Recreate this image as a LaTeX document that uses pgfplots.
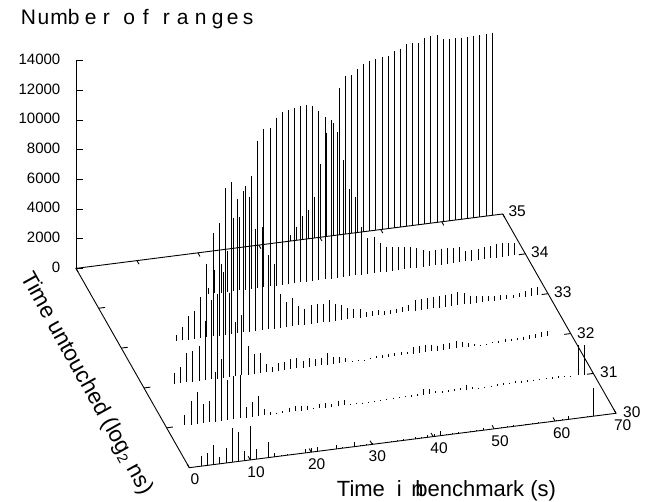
\documentclass[border=0pt]{standalone}
\usepackage{pgfplots}
\pgfplotsset{compat=1.18}
\usepackage{pgfplotstable}
\usepackage{fontspec}
\setmainfont{Liberation Sans}
\usetikzlibrary{calc}
\pgfplotstableread{
t n
2 700
3 810
4 1330
5 470
6 990
7 2300
8 2000
9 675
10 2270
11 675
13 1060
14 225
15 60
16 60
17 60
18 60
19 250
20 300
21 270
22 60
23 60
24 270
25 60
26 60
27 290
28 60
29 60
30 60
31 60
32 60
33 60
34 90
35 60
36 60
37 90
38 60
39 150
40 180
41 300
42 60
43 60
44 60
45 60
46 60
47 60
48 180
49 60
50 60
51 60
52 60
53 60
54 60
55 60
56 60
57 60
58 60
59 60
60 60
61 60
62 220
63 60
64 60
65 60
66 1935
}\rowA
\pgfplotstableread{
t n
3 720
4 1600
5 2180
6 1270
7 1420
8 3370
9 4170
10 2700
11 2900
12 2950
13 700
14 990
15 1330
16 400
17 180
18 70
19 135
20 270
21 380
22 340
23 290
24 90
25 290
26 340
27 160
28 360
29 340
30 45
31 20
32 8
33 8
34 8
35 50
36 60
37 70
38 90
39 90
40 90
41 135
42 380
43 360
44 135
45 110
46 135
47 135
48 135
49 315
50 135
51 10
52 10
53 10
54 90
55 135
56 110
57 135
58 135
59 110
60 90
61 70
62 70
63 110
64 110
65 90
66 20
67.3 2025
68.3 1960
}\rowB
\pgfplotstableread{
t n
5 720
6 1080
7 1980
8 2070
9 2340
10 4020
11 5380
12 5690
13 7150
14 5690
15 3640
16 4050
17 1960
18 1330
19 1350
20 560
21 340
22 500
23 520
24 690
25 690
26 470
27 610
28 470
29 520
30 790
31 470
32 405
33 290
34 10
35 50
36 10
37 70
38 135
39 160
40 180
41 200
42 200
43 180
44 460
45 460
46 470
47 450
48 315
49 380
50 380
51 470
52 380
53 250
54 135
55 20
56 45
57 110
58 135
59 200
60 135
61 180
62 200
63 225
64 250
65 380
66 340
}\rowC
\pgfplotstableread{
t n
9 405
10 900
11 1580
12 1890
13 2745
14 4920
15 6960
16 7600
17 9890
18 10250
19 9070
20 9540
21 9060
22 6900
23 6970
24 5000
25 4360
26 2295
27 1690
28 1935
29 1305
30 1080
31 1280
32 1280
33 1215
34 1440
35 1150
36 990
37 740
38 610
39 585
40 315
41 360
42 360
43 225
44 270
45 290
46 360
47 430
48 720
49 740
50 765
51 765
52 765
53 810
54 830
55 900
56 740
57 540
58 470
59 405
60 340
61 290
62 290
63 270
64 225
65 270
66 380
67 500
68 540
}\rowD
\pgfplotstableread{
t n
18 405
19 1600
20 1910
21 2770
22 4930
23 4950
24 7000
25 7630
26 9920
27 10690
28 10670
29 11340
30 11650
31 11750
32 11810
33 11880
34 11930
35 11810
36 11430
37 10935
38 10690
39 9855
40 7875
41 5895
42 5310
43 3195
44 2410
45 2430
46 2000
47 1690
48 1620
49 1530
50 1510
51 1460
52 1305
53 1150
54 1035
55 1060
56 1080
57 1060
58 1010
59 1010
60 675
61 700
62 720
63 810
64 810
65 920
66 920
67 855
68 810
}\rowE
\pgfplotstableread{
t n
35 405
36 920
37 1600
38 1935
39 2790
40 4930
41 7000
42 7630
43 9920
44 10665
45 10690
46 11025
47 11340
48 11475
49 11520
50 11630
51 11680
52 11900
53 12040
54 12285
55 12310
56 12285
57 12580
58 12620
59 12670
60 12330
61 12285
62 12260
63 12260
64 12240
65 12260
66 12260
67 12285
68 12330
}\rowF
\def\L#1#2{\rlap{\kern#1pt #2}}
\pgfplotsset{impulse/.style={draw=none, mark=none,
  error bars/z dir=minus, error bars/z fixed relative=1,
  error bars/error mark=none,
  error bars/error bar style={black, line width=1pt}}}
\begin{document}
\begin{tikzpicture}
\begin{axis}[
  hide axis, clip=false, disabledatascaling,
  x={(6.096pt,0.777pt)}, y={(-22.66pt,39.86pt)}, z={(0pt,0.014814pt)},
  xmin=0, xmax=70, ymin=30, ymax=35, zmin=0, zmax=14000,
]
\addplot3[impulse] table[x expr=\thisrow{t}*1.004, y expr=30, z=n] {\rowA};
\addplot3[impulse] table[x expr=\thisrow{t}*1.004, y expr=31, z=n] {\rowB};
\addplot3[impulse] table[x expr=\thisrow{t}*1.004, y expr=32, z=n] {\rowC};
\addplot3[impulse] table[x expr=\thisrow{t}*1.004, y expr=33, z=n] {\rowD};
\addplot3[impulse] table[x expr=\thisrow{t}*1.004, y expr=34, z=n] {\rowE};
\addplot3[impulse] table[x expr=\thisrow{t}*1.004, y expr=35, z=n] {\rowF};
\addplot3[black, line width=0.9pt, mark=none] coordinates {(0,30,0)(70,30,0)(70,35,0)(0,35,0)(0,30,0)};
\addplot3[black, line width=0.9pt, mark=none] coordinates {(0,35,0)(0,35,14000)};
\pgfplotsinvokeforeach{0,10,20,30,40,50,60,70}{
  \draw[line width=0.9pt] (axis cs:#1,30,0)--(axis cs:#1,30.09,0);
  \draw[line width=0.9pt] (axis cs:#1,35,0)--(axis cs:#1,34.91,0);
}
\pgfplotsinvokeforeach{31,32,33,34}{
  \draw[line width=0.9pt] (axis cs:0,#1,0)--(axis cs:1.05,#1,0);
  \draw[line width=0.9pt] (axis cs:70,#1,0)--(axis cs:68.95,#1,0);
}
\pgfplotsinvokeforeach{0,2000,4000,6000,8000,10000,12000,14000}{
  \draw[line width=0.9pt] (axis cs:0,35,#1)--++(7pt,0pt);
}
\coordinate (O) at (axis cs:0,30,0);
\end{axis}
\begin{scope}[x=1pt,y=-1pt,shift={($(O)+(-189.3pt,467.7pt)$)}]
\path (0,0) rectangle (655,502);
\foreach \v/\yy in {0/267,2000/237.4,4000/207.7,6000/178.1,8000/148.4,10000/118.8,12000/89.2,14000/59.5}
  \node[anchor=east,font=\fontsize{15}{15}\selectfont,inner sep=0pt] at (60.5,\yy) {\v};
\foreach \v/\xx/\yy in {35/508.3/211,34/531/252,33/554/292,32/577/333,31/600/372,30/623/412}
  \node[anchor=west,font=\fontsize{15.5}{15.5}\selectfont,inner sep=0pt] at (\xx,\yy) {\v};
\foreach \v/\xx/\yy in {0/195/479,10/256/472,20/316.7/464,30/377.3/456,40/439/448,50/500/441,60/561.7/433,70/622.7/425}
  \node[anchor=center,font=\fontsize{15.5}{15.5}\selectfont,inner sep=0pt] at (\xx,\yy) {\v};
\node[anchor=base west,inner sep=0pt,font=\fontsize{21}{21}\selectfont] at (20.7,25)
  {\L{0}{N}\L{16.8}{u}\L{29.5}{m}\L{47}{b}\L{64}{e}\L{82}{r}\L{102.5}{o}\L{122}{f}\L{142}{r}\L{156}{a}\L{174}{n}\L{191}{g}\L{206}{e}\L{222}{s}\phantom{N}};
\node[anchor=base west,inner sep=0pt,font=\fontsize{22}{22}\selectfont] at (336.7,497)
  {\L{0}{Time}\L{60}{i}\L{74.5}{n}\L{78.5}{benchmark (s)}\phantom{T}};
\node[rotate=-61,anchor=center,inner sep=0pt,font=\fontsize{22.5}{22.5}\selectfont] at (86.5,383.5)
  {Time untouched (log\raisebox{-4pt}{\fontsize{14.5}{14.5}\selectfont 2} ns)};
\end{scope}
\end{tikzpicture}
\end{document}
